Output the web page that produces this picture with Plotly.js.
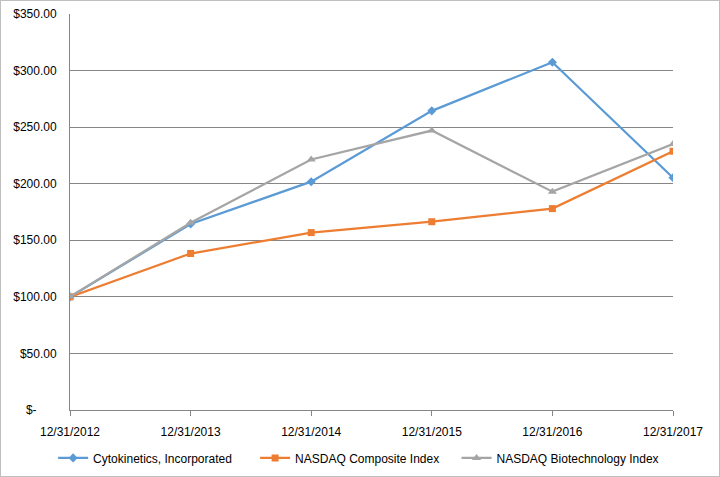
<!DOCTYPE html>
<html>
<head>
<meta charset="utf-8">
<script src="https://cdn.plot.ly/plotly-3.0.1.min.js"></script>
<style>
  body { margin: 0; padding: 0; background: #fff; }
  #graph { width: 718px; height: 475px; border: 1px solid #bfbfbf; }
</style>
</head>
<body>
<div id="graph"></div>
<script>
var dates = ['12/31/2012', '12/31/2013', '12/31/2014', '12/31/2015', '12/31/2016', '12/31/2017'];
var cytokinetics = [100, 164.4, 201.8, 264.4, 307.4, 205.3];
var nasdaqComposite = [100, 138.3, 156.8, 166.4, 178.0, 228.7];
var nasdaqBiotech = [100, 165.5, 221.4, 247.0, 193.0, 235.0];

var yTicks = [0, 50, 100, 150, 200, 250, 300, 350];
var yLabels = ['$-\u00a0\u00a0\u00a0\u00a0\u00a0\u00a0', '$50.00', '$100.00', '$150.00', '$200.00', '$250.00', '$300.00', '$350.00'];

function series(name, values, color, symbol, size, legendId){
    return {
        x: dates,
        y: values,
        name: name,
        legend: legendId,
        type: 'scatter',
        mode: 'lines+markers',
        line: {color: color, width: 2.25},
        marker: {color: color, symbol: symbol, size: size}
    };
}

var data = [
    series('Cytokinetics, Incorporated', cytokinetics, '#5b9bd5', 'diamond', 7, 'legend'),
    series('NASDAQ Composite Index', nasdaqComposite, '#ed7d31', 'square', 7, 'legend2'),
    series('NASDAQ Biotechnology Index', nasdaqBiotech, '#a5a5a5', 'triangle-up', 8, 'legend3')
];

function legendAt(x){
    return {
        orientation: 'h',
        x: x, xanchor: 'left',
        y: -0.121, yanchor: 'middle',
        font: {size: 12},
        bgcolor: 'rgba(0,0,0,0)'
    };
}

var layout = {
    width: 718,
    height: 475,
    margin: {l: 69, r: 46, t: 13, b: 66, autoexpand: false},
    paper_bgcolor: '#ffffff',
    plot_bgcolor: '#ffffff',
    font: {family: 'Liberation Sans, Arial, sans-serif', size: 12, color: '#000000'},
    showlegend: true,
    legend: legendAt(-0.028),
    legend2: legendAt(0.307),
    legend3: legendAt(0.641),
    xaxis: {
        type: 'category',
        range: [0, 5],
        showgrid: false,
        showline: true,
        linecolor: '#868686',
        linewidth: 1,
        ticks: 'outside',
        ticklen: 5,
        tickcolor: '#868686',
        ticklabelstandoff: 6,
        tickfont: {size: 12},
        fixedrange: true
    },
    yaxis: {
        range: [0, 350],
        tickvals: yTicks,
        ticktext: yLabels,
        showgrid: true,
        gridcolor: '#868686',
        gridwidth: 1,
        showline: true,
        linecolor: '#868686',
        zeroline: false,
        ticks: '',
        ticklen: 0,
        ticklabelstandoff: 10,
        tickfont: {size: 12},
        fixedrange: true
    }
};

Plotly.newPlot('graph', data, layout, {displayModeBar: false, staticPlot: true});
</script>
</body>
</html>
